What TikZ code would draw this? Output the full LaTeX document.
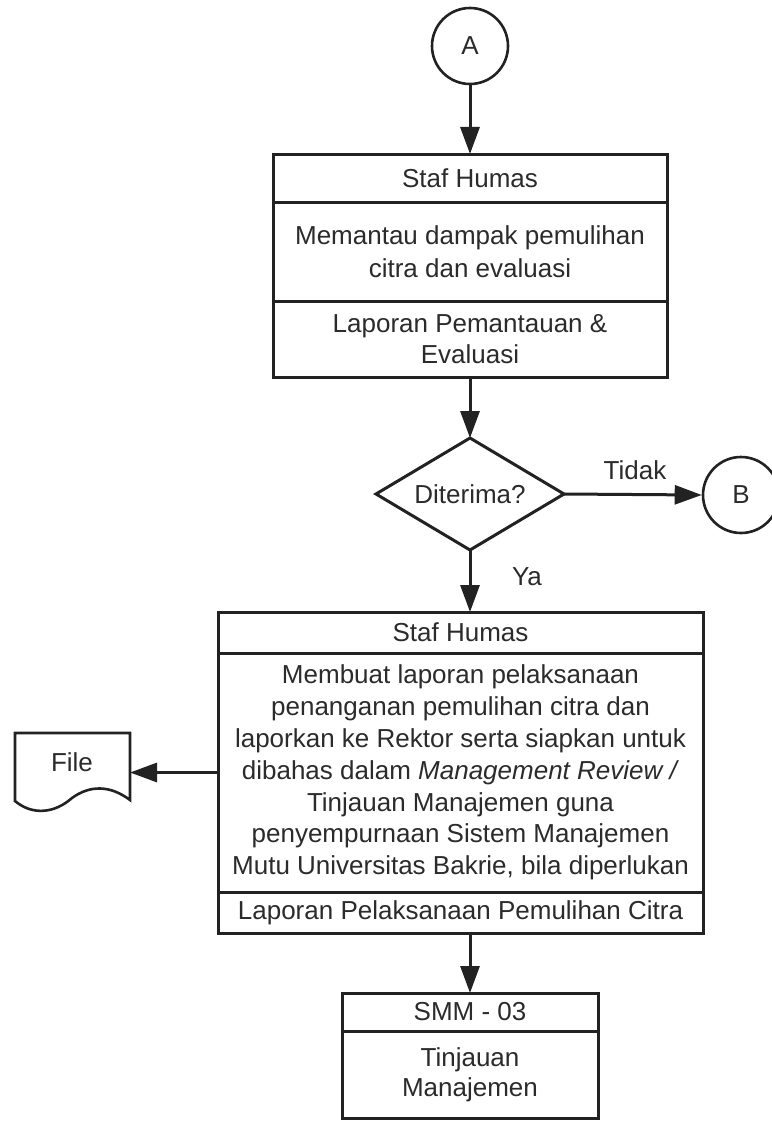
\documentclass[tikz,border=0pt]{standalone}
\usepackage{fontspec}
\setmainfont{Liberation Sans}
\usetikzlibrary{arrows.meta,shapes.geometric}
\definecolor{ink}{HTML}{222222}
\definecolor{txt}{HTML}{2B2B2B}
\begin{document}
\begin{tikzpicture}[x=1pt,y=-1pt,
  every node/.style={text=txt, font=\fontsize{26}{32}\selectfont},
  sect/.style={draw=ink, line width=3pt, rectangle, inner sep=0pt, outer sep=0pt, align=center},
  conn/.style={circle, draw=ink, line width=2.6pt, minimum size=76pt, inner sep=0pt},
  flow/.style={draw=ink, line width=3pt, -{Triangle[length=27pt,width=19pt]}},
  lbl/.style={inner sep=0pt}
]
\useasboundingbox[fill=white] (0,0) rectangle (771,1121);

% connector A
\node[conn] (A) at (470,46) {A};

% box 1
\node[sect, minimum width=394pt, minimum height=48pt] (b1t) at (470,178) {Staf Humas};
\node[sect, minimum width=394pt, minimum height=99pt, font=\fontsize{26}{33}\selectfont] (b1m) at (470,251.5) {Memantau dampak pemulihan\\citra dan evaluasi};
\node[sect, minimum width=394pt, minimum height=76pt, font=\fontsize{26}{31}\selectfont] (b1b) at (470,339) {Laporan Pemantauan \&\\Evaluasi};

% decision
\node[diamond, draw=ink, line width=3pt, minimum width=188pt, minimum height=112pt, inner sep=0pt, outer sep=0pt, aspect=1.68] (d) at (470,494) {Diterima?};

% connector B
\node[conn] (B) at (741,495) {B};
\node[lbl] (tidak) at (635,470) {Tidak};
\node[lbl] (ya) at (527,577) {Ya};

% box 2
\node[sect, minimum width=485pt, minimum height=41pt] (b2t) at (460.5,632.5) {Staf Humas};
\node[sect, minimum width=485pt, minimum height=239pt, font=\fontsize{26}{31.8}\selectfont] (b2m) at (460.5,772.5) {Membuat laporan pelaksanaan\\penanganan pemulihan citra dan\\laporkan ke Rektor serta siapkan untuk\\dibahas dalam \textit{Management Review /}\\Tinjauan Manajemen guna\\penyempurnaan Sistem Manajemen\\Mutu Universitas Bakrie, bila diperlukan};
\node[sect, minimum width=485pt, minimum height=41pt] (b2b) at (460.5,912.5) {Laporan Pelaksanaan Pemulihan Citra};

% file document
\node[minimum width=115pt, minimum height=69pt, inner sep=0pt, outer sep=0pt] (file) at (72.5,767.5) {};
\draw[ink, line width=2.6pt, line join=miter]
  (file.south west) -- (file.north west) -- (file.north east) -- (130,800)
  .. controls (110,785) and (90,785) .. (72,798)
  .. controls (55,813) and (33,816) .. (15,801) -- cycle;
\node[lbl] (filelbl) at (72,762) {File};

% box 3
\node[sect, minimum width=256pt, minimum height=38pt] (b3t) at (470,1012) {SMM - 03};
\node[sect, minimum width=256pt, minimum height=87pt, font=\fontsize{26}{30}\selectfont] (b3m) at (470,1074.5) {Tinjauan\\Manajemen};

% connectors
\draw[flow] (A.south) -- (b1t.north);
\draw[flow] (b1b.south) -- (d.north);
\draw[flow] (d.east) -- (B.west);
\draw[flow] (d.south) -- (d.south |- b2t.north);
\draw[flow] (b2m.west) -- (b2m.west -| file.east);
\draw[flow] (b2b.south -| b3t.north) -- (b3t.north);
\end{tikzpicture}
\end{document}
